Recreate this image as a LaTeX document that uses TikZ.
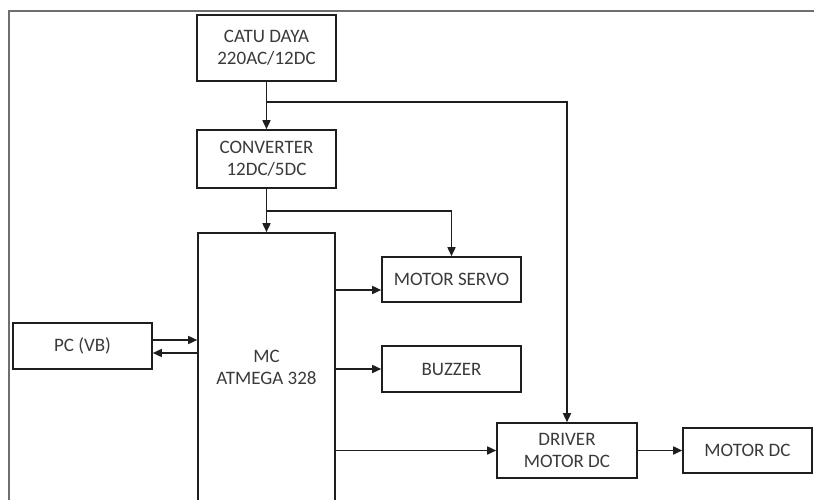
\documentclass[tikz,border=0pt]{standalone}
\usepackage{fontspec}
\setmainfont{Carlito}
\usetikzlibrary{arrows.meta}
\definecolor{linec}{HTML}{1E1E1E}
\definecolor{textc}{HTML}{3A3A3A}
\definecolor{framec}{HTML}{6E6E6E}
\begin{document}
\begin{tikzpicture}[x=1pt,y=-1pt,
  box/.style={draw=linec, line width=1.6pt, text=textc, align=center, inner sep=0pt,
    font=\fontsize{19}{22}\selectfont},
  conn/.style={draw=linec, line width=1.6pt, -{Triangle[length=9pt,width=8pt]}},
  framel/.style={draw=framec, line width=2.2pt}]
\useasboundingbox (0,0) rectangle (814,500);
% frame
\coordinate (ftl) at (9,11);
\coordinate (ftr) at (816,11);
\coordinate (fbl) at (9,502);
\draw[framel] (fbl) -- (ftl) -- (ftr);
% boxes
\node[box, minimum width=139pt, minimum height=66pt] (catu) at (266.5,48) {CATU DAYA\\220AC/12DC};
\node[box, minimum width=139pt, minimum height=58pt] (conv) at (266.5,159) {CONVERTER\\12DC/5DC};
\node[box, minimum width=137pt, minimum height=268pt] (mc) at (266.5,367) {MC\\ATMEGA 328};
\node[box, minimum width=139pt, minimum height=46pt] (pc) at (82.5,346) {PC (VB)};
\node[box, minimum width=139pt, minimum height=45pt] (servo) at (451.5,279.5) {MOTOR SERVO};
\node[box, minimum width=139pt, minimum height=46pt] (buzz) at (451.5,369) {BUZZER};
\node[box, minimum width=140pt, minimum height=55pt] (drv) at (567,450.5) {DRIVER\\MOTOR DC};
\node[box, minimum width=129pt, minimum height=45pt] (mdc) at (747.5,450.5) {MOTOR DC};
% junctions
\coordinate (j1) at (266.5,102);
\coordinate (j2) at (266.5,211);
% connectors
\draw[conn] (catu) -- (conv);
\draw[conn] (j1) -| (drv.north);
\draw[conn] (conv) -- (mc);
\draw[conn] (j2) -| (servo.north);
\draw[conn] (mc.east |- 0,290) -- (servo.west |- 0,290);
\draw[conn] (mc.east |- buzz.west) -- (buzz.west);
\draw[conn] (mc.east |- drv.west) -- (drv.west);
\draw[conn] (drv.east) -- (mdc.west);
\draw[conn] (pc.east |- 0,340) -- (mc.west |- 0,340);
\draw[conn] (mc.west |- 0,353) -- (pc.east |- 0,353);
\end{tikzpicture}
\end{document}
